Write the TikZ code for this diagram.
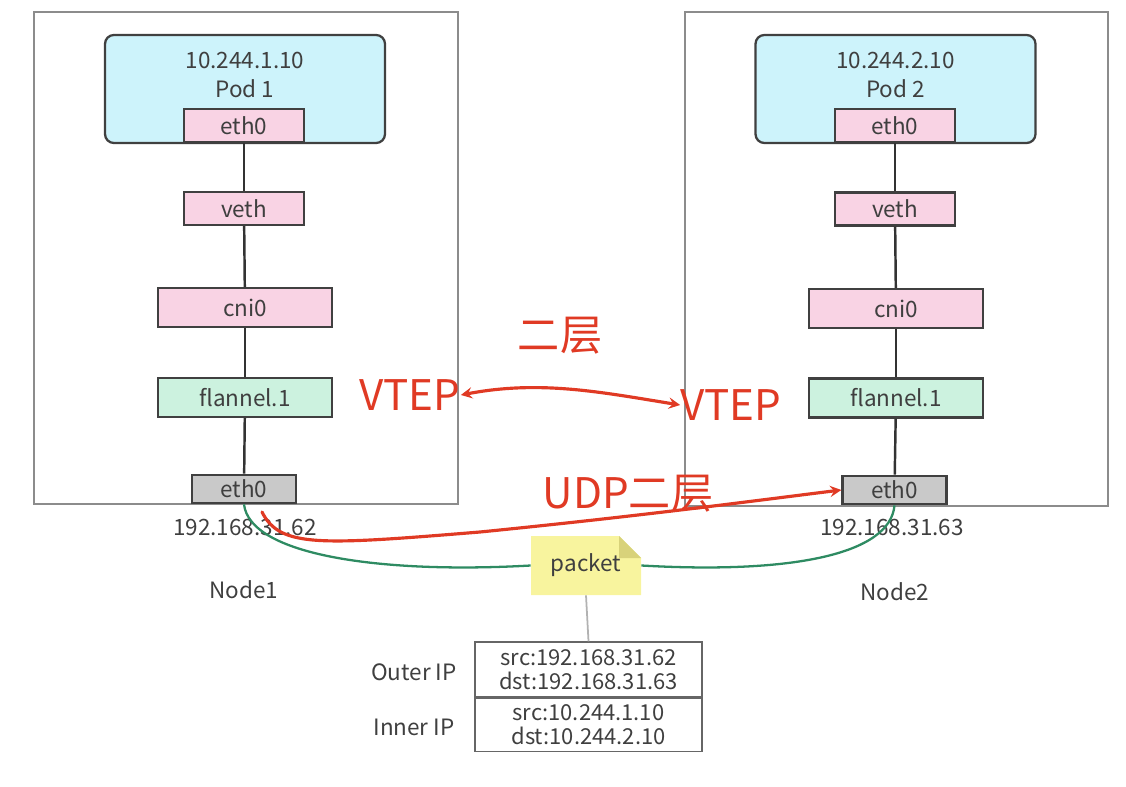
\documentclass[tikz,border=0pt]{standalone}
\usepackage{fontspec}
\setmainfont{Noto Sans CJK SC}
\usetikzlibrary{shapes.geometric,arrows,calc}
\definecolor{podblue}{HTML}{CDF3FB}
\definecolor{ifpink}{HTML}{F9D3E4}
\definecolor{flgreen}{HTML}{CCF2DF}
\definecolor{ethgray}{HTML}{C9C9C9}
\definecolor{linkgreen}{HTML}{2E8B62}
\definecolor{noteyellow}{HTML}{F8F49E}
\definecolor{notefold}{HTML}{D8D27A}
\definecolor{penred}{HTML}{E03A24}
\definecolor{txtgray}{HTML}{3F3F3F}

\tikzset{
  hostbox/.style={draw=black!45, line width=0.9pt, fill=white, inner sep=0pt},
  podbox/.style={draw=black!75, fill=podblue, rounded corners=5pt, line width=1.3pt, inner sep=0pt, minimum width=5.6cm, minimum height=2.16cm},
  ifbox/.style={draw=black!75, fill=ifpink, line width=1.3pt, inner sep=0pt, minimum width=2.4cm, minimum height=0.66cm, text=txtgray},
  brbox/.style={ifbox, minimum width=3.48cm, minimum height=0.78cm},
  flbox/.style={brbox, fill=flgreen},
  ethbox/.style={ifbox, fill=ethgray, minimum width=2.08cm, minimum height=0.57cm},
  lbl/.style={text=txtgray, inner sep=1pt},
  pktbox/.style={draw=black!60, line width=0.8pt, inner sep=0pt, minimum width=4.54cm, align=center, text=txtgray, font=\fontsize{12.5}{13.5}\selectfont},
  link/.style={draw=black!80, line width=1.4pt},
  pen/.style={penred, line width=1.8pt, line cap=round},
  pentxt/.style={text=penred, font=\fontsize{24}{26}\selectfont, inner sep=0pt}
}

\begin{document}
\begin{tikzpicture}[x=0.02cm, y=-0.02cm, font=\fontsize{12.8}{15}\selectfont]
    \useasboundingbox (0,0) rectangle (1126,787);
    % hosts
    \node[hostbox, minimum width=8.48cm, minimum height=9.84cm] (host1) at (246,258) {};
    \node[hostbox, minimum width=8.46cm, minimum height=9.88cm] (host2) at (896.5,259) {};

    % node 1
    \node[podbox] (pod1) at (245,89) {};
    \node[lbl] (pip1) at (245,60) {10.244.1.10};
    \node[lbl] (pname1) at (245,89) {Pod 1};
    \node[ifbox] (peth1) at (244,125.5) {eth0};
    \node[ifbox] (veth1) at (244,208.5) {veth};
    \node[brbox] (cni1) at (245,307.5) {cni0};
    \node[flbox] (fl1) at (245,397.5) {flannel.1};
    \node[ethbox] (eth1) at (244,489) {eth0};
    \draw[link] (peth1)--(veth1);
    \draw[link] (veth1)--(cni1);
    \draw[link] (cni1)--(fl1);
    \draw[link] (fl1)--(eth1);

    % node 2
    \node[podbox] (pod2) at (895.5,89) {};
    \node[lbl] (pip2) at (895.5,60) {10.244.2.10};
    \node[lbl] (pname2) at (895.5,89) {Pod 2};
    \node[ifbox] (peth2) at (895,125.5) {eth0};
    \node[ifbox] (veth2) at (895,209) {veth};
    \node[brbox] (cni2) at (896,308.5) {cni0};
    \node[flbox] (fl2) at (896,398) {flannel.1};
    \node[ethbox] (eth2) at (894.5,490) {eth0};
    \draw[link] (peth2)--(veth2);
    \draw[link] (veth2)--(cni2);
    \draw[link] (cni2)--(fl2);
    \draw[link] (fl2)--(eth2);

    \node[lbl] (addr1) at (245,527) {192.168.31.62};
    \node[lbl] (addr2) at (892,527) {192.168.31.63};
    \node[lbl] (name1) at (244,590) {Node1};
    \node[lbl] (name2) at (895,592) {Node2};

    % packet
    \fill[noteyellow] (531,536) -- (619,536) -- (641,558) -- (641,595) -- (531,595) -- cycle;
    \fill[notefold] (619,536) -- (641,558) -- (619,558) -- cycle;
    \node[lbl, minimum width=2.2cm, minimum height=1.18cm] (packet) at (586,565.5) {packet};
    \draw[linkgreen, line width=1.3pt] (eth1.south) .. controls (250,555) and (380,574) .. (packet.west);
    \draw[linkgreen, line width=1.3pt] (packet.east) .. controls (790,574) and (890,555) .. (eth2.south);

    \node[pktbox, minimum height=1.1cm] (outer) at (588.5,669.5) {src:192.168.31.62\\dst:192.168.31.63};
    \node[pktbox, minimum height=1.06cm, anchor=north] (inner) at (outer.south) {src:10.244.1.10\\dst:10.244.2.10};
    \draw[black!30, line width=1pt] (packet.south)--(outer.north);
    \node[lbl] (outerlbl) at (414,672) {Outer IP};
    \node[lbl] (innerlbl) at (414,727) {Inner IP};

    % red pen notes
    \node[pentxt] (vtep1) at (410,395) {VTEP};
    \node[pentxt] (vtep2) at (731,405) {VTEP};
    \node[pentxt] (layer2) at (560,336) {二层};
    \draw[pen, <->, >=stealth] (vtep1.east) .. controls (540,380) and (600,392) .. (vtep2.west);
    \node[pentxt] (udp) at (628,494) {UDP二层};
    \coordinate (penstart) at (262,512);
    \draw[pen, ->, >=stealth] (penstart) .. controls (280,548) and (320,545) .. (480,532) .. controls (650,515) and (760,500) .. (eth2.west);
\end{tikzpicture}
\end{document}
